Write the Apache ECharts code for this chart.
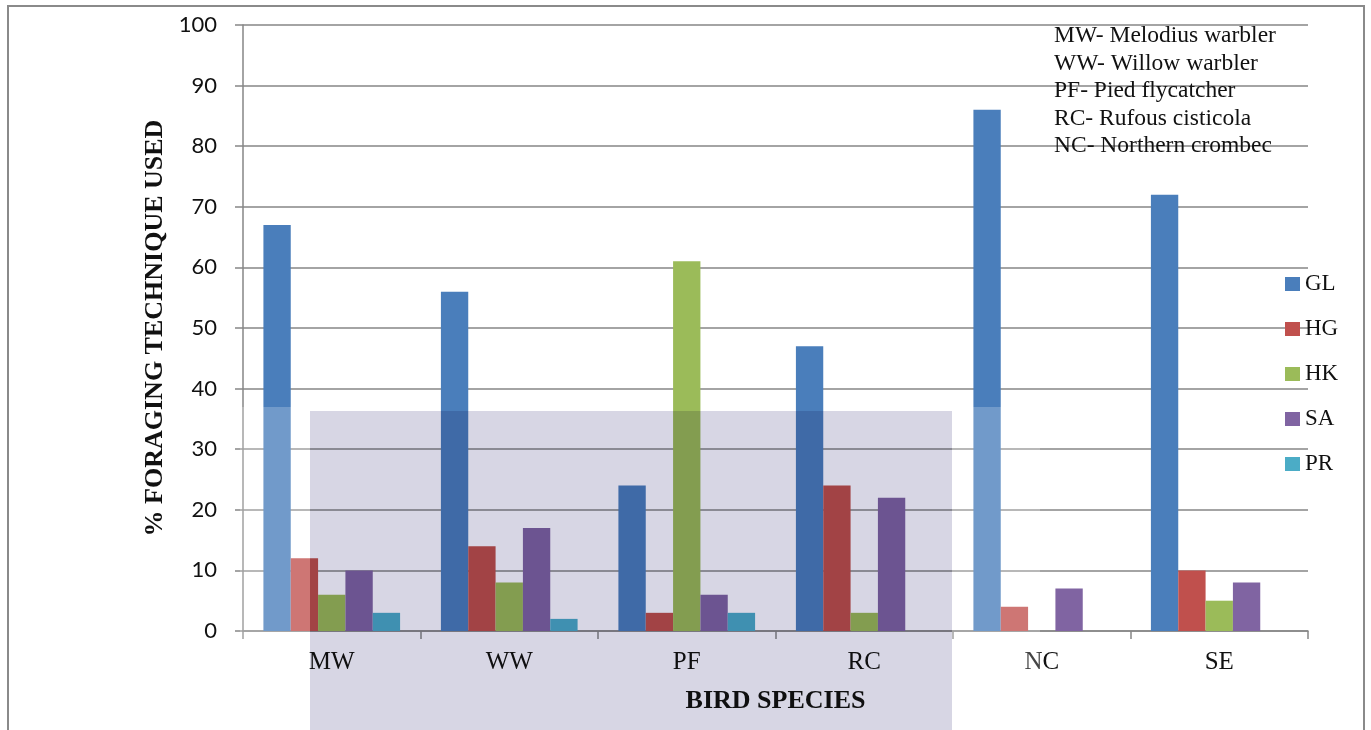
<!DOCTYPE html>
<html>
<head>
<meta charset="utf-8">
<script src="https://cdn.jsdelivr.net/npm/echarts@6/dist/echarts.min.js"></script>
<style>
  html, body { margin: 0; padding: 0; background: #fff; }
  #chart { width: 1371px; height: 730px; }
</style>
</head>
<body>
<div id="chart"></div>
<script>
// Foraging techniques used by each bird species (% of observations)
const categories = ['MW', 'WW', 'PF', 'RC', 'NC', 'SE'];
const techniques = ['GL', 'HG', 'HK', 'SA', 'PR'];
const GL = [67, 56, 24, 47, 86, 72];
const HG = [12, 14, 3, 24, 4, 10];
const HK = [6, 8, 61, 3, 0, 5];
const SA = [10, 17, 6, 22, 7, 8];
const PR = [3, 2, 3, 0, 0, 0];
const yTicks = { min: 0, max: 100, interval: 10 };
const speciesKey = [
  'MW- Melodius warbler',
  'WW- Willow warbler',
  'PF- Pied flycatcher',
  'RC- Rufous cisticola',
  'NC- Northern crombec'
];

const seriesValues = [GL, HG, HK, SA, PR];
const colors = ['#4a7ebb', '#c0504d', '#9bbb59', '#8064a2', '#4bacc6'];
const serif = '"Liberation Serif", "Times New Roman", serif';
const sans = 'Lato, "Open Sans", sans-serif';
const gridColor = '#868686';

const chart = echarts.init(document.getElementById('chart'), null, { renderer: 'canvas' });

const keyText = speciesKey.map((t, i) => ({
  type: 'text',
  left: 1054,
  top: 24 + i * 27.5,
  z: 50,
  style: { text: t, fontSize: 23.5, fontFamily: serif, fill: '#111' }
}));

const option = {
  animation: false,
  backgroundColor: '#fff',
  color: colors,
  grid: { left: 243, right: 63, top: 25, bottom: 99, containLabel: false },
  legend: {
    orient: 'vertical',
    left: 1280,
    top: 267,
    icon: 'rect',
    itemWidth: 15,
    itemHeight: 14,
    itemGap: 21,
    data: techniques,
    textStyle: { fontFamily: serif, fontSize: 23, lineHeight: 24, color: '#111' }
  },
  xAxis: {
    type: 'category',
    data: categories,
    axisLine: { lineStyle: { color: gridColor, width: 1.5 } },
    axisTick: { show: true, length: 8, lineStyle: { color: gridColor, width: 1.5 } },
    axisLabel: { fontFamily: serif, fontSize: 25, color: '#111', margin: 19 },
    name: 'BIRD SPECIES',
    nameLocation: 'middle',
    nameGap: 57,
    nameTextStyle: { fontFamily: serif, fontSize: 26, fontWeight: 'bold', color: '#111' }
  },
  yAxis: {
    type: 'value',
    min: yTicks.min,
    max: yTicks.max,
    interval: yTicks.interval,
    axisLine: { show: true, lineStyle: { color: gridColor, width: 1.5 } },
    axisTick: { show: true, length: 8, lineStyle: { color: gridColor, width: 1.5 } },
    splitLine: { lineStyle: { color: gridColor, width: 1.5 } },
    axisLabel: { fontFamily: sans, fontSize: 22, color: '#111', margin: 26 },
    name: '% FORAGING TECHNIQUE USED',
    nameLocation: 'middle',
    nameGap: 74,
    nameTextStyle: { fontFamily: serif, fontSize: 26, fontWeight: 'bold', color: '#111' }
  },
  series: techniques.map((name, i) => ({
    name,
    type: 'bar',
    data: seriesValues[i],
    barGap: '0%',
    barCategoryGap: '23%',
    itemStyle: { color: colors[i] }
  })),
  graphic: [
    // outer chart frame
    {
      type: 'rect', z: 60,
      shape: { x: 8, y: 6, width: 1356, height: 760 },
      style: { fill: 'none', stroke: '#8a8a8a', lineWidth: 2 }
    },
    ...keyText,
    // pale haze beside the emblem panel
    {
      type: 'rect', z: 40, silent: true,
      shape: { x: 240, y: 407, width: 70, height: 330 },
      style: { fill: 'rgba(255,255,255,0.22)' }
    },
    {
      type: 'rect', z: 40, silent: true,
      shape: { x: 952, y: 407, width: 88, height: 330 },
      style: { fill: 'rgba(255,255,255,0.22)' }
    },
    // lavender emblem panel
    {
      type: 'rect', z: 41, silent: true,
      shape: { x: 310, y: 411, width: 642, height: 330 },
      style: { fill: '#d7d6e4', blend: 'multiply' }
    }
  ]
};

chart.setOption(option);
</script>
</body>
</html>
